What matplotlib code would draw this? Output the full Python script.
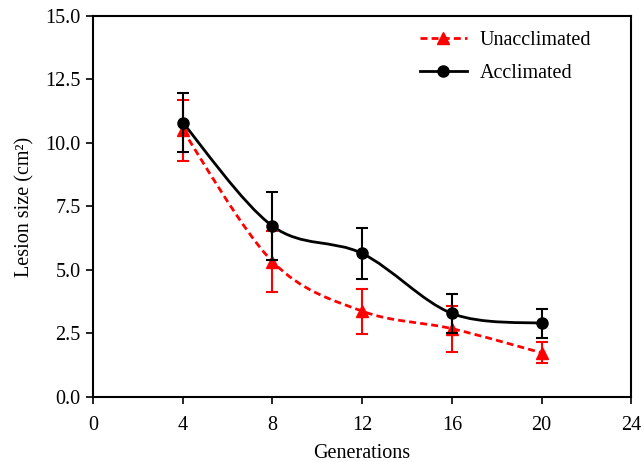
import matplotlib
matplotlib.use("Agg")
import matplotlib.pyplot as plt
from matplotlib.path import Path
from matplotlib.patches import PathPatch
from matplotlib.lines import Line2D

plt.rcParams['font.family'] = ['Liberation Serif', 'DejaVu Serif']

generations = [4, 8, 12, 16, 20]
unacclimated = [10.5, 5.33, 3.38, 2.69, 1.74]
unacclimated_err = [1.2, 1.2, 0.89, 0.91, 0.42]
acclimated = [10.8, 6.73, 5.65, 3.29, 2.90]
acclimated_err = [1.15, 1.33, 1.02, 0.76, 0.57]

x_ticks = [0, 4, 8, 12, 16, 20, 24]
y_ticks = [0.0, 2.5, 5.0, 7.5, 10.0, 12.5, 15.0]


def smooth_path(xs, ys):
    # Excel-style smoothed line: cubic bezier segments, Catmull-Rom tangents
    pts = list(zip(xs, ys))
    verts = [pts[0]]
    codes = [Path.MOVETO]
    n = len(pts)
    for i in range(n - 1):
        p0 = pts[max(i - 1, 0)]
        p1 = pts[i]
        p2 = pts[i + 1]
        p3 = pts[min(i + 2, n - 1)]
        c1 = (p1[0] + (p2[0] - p0[0]) / 6, p1[1] + (p2[1] - p0[1]) / 6)
        c2 = (p2[0] - (p3[0] - p1[0]) / 6, p2[1] - (p3[1] - p1[1]) / 6)
        verts += [c1, c2, p2]
        codes += [Path.CURVE4] * 3
    return Path(verts, codes)


fig = plt.figure(figsize=(6.44, 4.62), dpi=100)
ax = fig.add_axes([0.1444, 0.1407, 0.836, 0.8247])

ax.add_patch(PathPatch(smooth_path(generations, unacclimated), fill=False,
                       edgecolor='#ff0000', lw=2, ls=(0, (2.5, 1.5)), zorder=2))
ax.add_patch(PathPatch(smooth_path(generations, acclimated), fill=False,
                       edgecolor='black', lw=2, zorder=3))

ax.errorbar(generations, unacclimated, yerr=unacclimated_err, fmt='^',
            color='#ff0000', ms=8, capsize=4, elinewidth=1.5, capthick=1.5, zorder=4)
ax.errorbar(generations, acclimated, yerr=acclimated_err, fmt='o',
            color='black', ms=8, capsize=4, elinewidth=1.5, capthick=1.5, zorder=5)

ax.set_xlim(0, 24)
ax.set_ylim(0, 15)
ax.set_xticks(x_ticks)
ax.set_yticks(y_ticks)
ax.set_yticklabels([f"{v:.1f}" for v in y_ticks])
ax.tick_params(direction='out', length=5, width=1.2, labelsize=14.5)
ax.tick_params(axis='x', pad=9)
ax.tick_params(axis='y', pad=4)
for s in ax.spines.values():
    s.set_linewidth(1.5)

ax.set_xlabel("Generations", fontsize=14.5, labelpad=6)
ax.set_ylabel("Lesion size (cm²)", fontsize=14.5, labelpad=8)

handles = [
    Line2D([], [], color='#ff0000', lw=2, ls=(0, (2.5, 1.5)), marker='^', ms=8),
    Line2D([], [], color='black', lw=2, marker='o', ms=8),
]
ax.legend(handles, ["Unacclimated", "Acclimated"], loc='upper left',
          bbox_to_anchor=(0.608, 0.962), frameon=False, fontsize=14.5,
          borderpad=0, borderaxespad=0, handlelength=2.3, handletextpad=0.65,
          labelspacing=0.7)

fig.savefig("out.png", dpi=100)
